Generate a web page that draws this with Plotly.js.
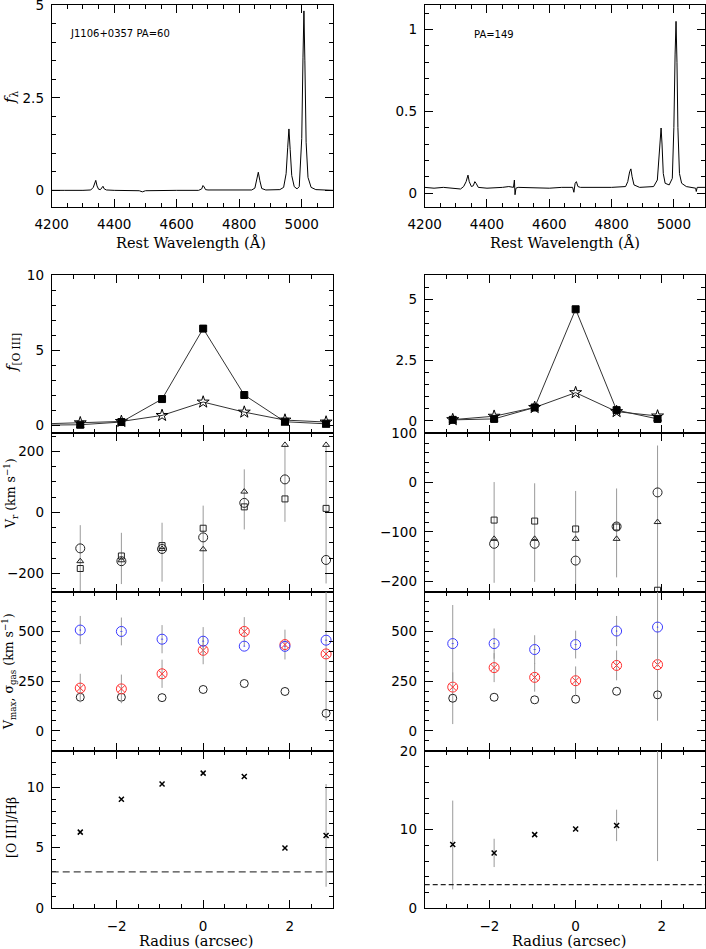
<!DOCTYPE html>
<html><head><meta charset="utf-8">
<script src="https://cdn.plot.ly/plotly-3.0.1.min.js"></script>
<style>html,body{margin:0;padding:0;background:#fff}#p{width:706px;height:949px}</style>
</head><body><div id="p"></div>
<script>
// ---------- DATA ----------
// Spectrum, PA=60 (rest wavelength, flux)
const specLWave = [4200,4230,4240,4300,4325,4333,4338,4341,4345,4350,4356,4361,4364,4368,4375,4400,4480,4490,4500,4600,4670,4680,4684,4688,4692,4700,4720,4800,4840,4850,4856,4861,4866,4872,4885,4930,4942,4950,4955,4959,4963,4968,4976,4985,4992,5000,5004,5007,5010,5014,5020,5030,5045,5100];
const specLFlux = [0.0,0.01,0.0,0.0,0.01,0.08,0.22,0.27,0.12,0.03,0.02,0.10,0.11,0.04,0.01,0.0,-0.01,-0.04,-0.01,0.0,0.0,0.04,0.13,0.09,0.02,0.01,0.01,0.0,0.01,0.06,0.28,0.49,0.26,0.05,0.01,0.02,0.08,0.45,1.15,1.66,1.1,0.4,0.1,0.04,0.1,1.4,3.6,4.85,3.5,1.3,0.35,0.08,0.02,0.0];
// Spectrum, PA=149
const specRWave = [4200,4230,4260,4300,4315,4325,4333,4339,4343,4350,4356,4361,4365,4372,4400,4450,4470,4485,4488,4490,4493,4500,4600,4640,4675,4679,4683,4687,4692,4700,4800,4845,4852,4858,4862,4866,4872,4890,4935,4947,4953,4957,4959,4962,4966,4972,4985,4995,5000,5004,5007,5010,5013,5018,5025,5040,5070,5072,5075,5100];
const specRFlux = [0.035,0.03,0.035,0.03,0.025,0.04,0.07,0.11,0.07,0.04,0.045,0.07,0.06,0.035,0.03,0.035,0.04,0.035,0.08,-0.01,0.03,0.035,0.03,0.035,0.035,0.005,0.06,0.07,0.04,0.035,0.035,0.04,0.07,0.13,0.148,0.1,0.05,0.035,0.04,0.08,0.22,0.36,0.398,0.3,0.12,0.06,0.05,0.09,0.4,0.85,1.05,0.8,0.4,0.12,0.06,0.04,0.03,0.01,0.035,0.035];

// Radius positions (arcsec)
const radL = [-2.84,-1.89,-0.95,0,0.95,1.89,2.84];
const radR = [-2.85,-1.89,-0.95,0,0.95,1.9];

// [O III] flux profiles (first point lies just outside the plotted range)
const fluxRadL = [-3.79,-2.84,-1.89,-0.95,0,0.95,1.89,2.84];
const fluxSqL   = [0.02,0.05,0.23,1.76,6.45,2.03,0.25,0.11];
const fluxStarL = [0.10,0.18,0.27,0.67,1.56,0.89,0.36,0.23];
const fluxSqR   = [0.04,0.08,0.55,4.59,0.44,0.08];
const fluxStarR = [0.05,0.19,0.55,1.16,0.38,0.20];

// Radial velocities (km/s)
const vrCircL = [-118,-160,-120,-82,31,108,-156];
const vrTriL  = [-160,-157,-120,-121,68,221,221];
const vrSqL   = [-184,-143,-109,-52,18,44,13];
const vrBarTopL = [-42,-67,-34,22,141,221,221];
const vrBarBotL = [-290,-235,-227,-231,-56,-31,-233];
const vrRadR  = [-1.89,-0.95,0,0.95,1.9];
const vrCircR = [-124,-124,-158,-89,-20];
const vrTriR  = [-114,-114,-114,-114,-80];
const vrSqR   = [-76,-78,-94,-90,-218];
const vrBarTopR = [1,-1.5,-17,-12,75];
const vrBarBotR = [-203,-201,-240,-192,-240];

// V_max (blue), sigma_gas (red), other (black circles)
const vmaxL  = [507,500,461,451,426,425,456];
const vmaxErrL = [71,70,71,71,0,0,0];
const sigL   = [215,211,287,405,500,434,387];
const sigErrL = [72,72,71,70,72,75,0];
const blkL   = [169,169,167,208,238,198,88];
const blkErrUpL = [0,0,0,0,0,0,620];
const blkErrDnL = [0,0,0,0,0,0,37];
const vmaxR  = [439,439,409,434,502,522];
const vmaxErrR = [194,76,72,70,76,200];
const sigR   = [220,318,269,252,329,333];
const sigErrR = [0,73,72,72,75,0];
const blkR   = [164,169,156,159,199,181];
const blkErrR = [130,0,0,0,0,130];

// [O III]/Hbeta ratios
const ratL = [6.28,9.0,10.25,11.15,10.87,4.97,6.0];
const ratErrUpL = [0,0,0,0,0,0,4.25];
const ratErrDnL = [0,0,0,0,0,0,4.23];
const ratR = [8.1,7.04,9.37,10.08,10.54,24];
const ratErrUpR = [5.6,1.8,0,0,2,20];
const ratErrDnR = [5.7,1.8,0,0,2,18];
const agnLimit = 3;

// Text
const labelL = "J1106+0357 PA=60";
const labelR = "PA=149";

// ---------- LAYOUT HELPERS ----------
const W = 706, H = 949;
const colL = [51.7, 333], colR = [424.7, 705];
const rows = {spec:[5,207], flux:[275,433], vr:[433,591.7], sig:[591.7,750.7], rat:[750.7,908.3]};
const dx = c => [c[0]/W, c[1]/W];
const dy = r => [1 - r[1]/H, 1 - r[0]/H];
const TF = {family:'DejaVu Sans, sans-serif', size:13.5, color:'#000'};

function xax(dom, range, dtick, minor, labels, anchor){
  return {domain:dx(dom), range:range, anchor:anchor, showgrid:false, zeroline:false,
    showline:true, linecolor:'#000', linewidth:1, mirror:'ticks', ticks:'inside',
    ticklen:8, tickwidth:1, tickcolor:'#000', dtick:dtick, tick0:0,
    minor:{dtick:minor, ticklen:4, tickwidth:1, tickcolor:'#000', ticks:'inside', showgrid:false},
    showticklabels:labels, tickfont:TF, ticklabelstandoff:5, ticklabeloverflow:'allow', fixedrange:true};
}
function yax(dom, range, dtick, minor, anchor){
  return {domain:dy(dom), range:range, anchor:anchor, showgrid:false, zeroline:false,
    showline:true, linecolor:'#000', linewidth:1, mirror:'ticks', ticks:'inside',
    ticklen:8, tickwidth:1, tickcolor:'#000', dtick:dtick, tick0:0,
    minor:{dtick:minor, ticklen:4, tickwidth:1, tickcolor:'#000', ticks:'inside', showgrid:false},
    tickfont:TF, ticklabelstandoff:4, ticklabeloverflow:'allow', fixedrange:true};
}

const R = [-3.5, 3];
const layout = {
  width:W, height:H, margin:{l:0,r:0,t:0,b:0}, paper_bgcolor:'#fff', plot_bgcolor:'#fff',
  showlegend:false,
  xaxis:  xax(colL,[4200,5100],200,50,true,'y'),   yaxis:  yax(rows.spec,[-0.45,5.01],2.5,0.5,'x'),
  xaxis2: xax(colR,[4200,5100],200,50,true,'y2'),  yaxis2: yax(rows.spec,[-0.085,1.15],0.5,0.1,'x2'),
  xaxis3: xax(colL,R,2,0.5,false,'y3'),  yaxis3: yax(rows.flux,[-0.5,10.02],5,1,'x3'),
  xaxis4: xax(colR,R,2,0.5,false,'y4'),  yaxis4: yax(rows.flux,[-0.5,6],2.5,0.5,'x4'),
  xaxis5: xax(colL,R,2,0.5,false,'y5'),  yaxis5: yax(rows.vr,[-260,260],200,50,'x5'),
  xaxis6: xax(colR,R,2,0.5,false,'y6'),  yaxis6: yax(rows.vr,[-221,100.3],100,20,'x6'),
  xaxis7: xax(colL,R,2,0.5,false,'y7'),  yaxis7: yax(rows.sig,[-100,700],250,50,'x7'),
  xaxis8: xax(colR,R,2,0.5,false,'y8'),  yaxis8: yax(rows.sig,[-100,700],250,50,'x8'),
  xaxis9: xax(colL,R,2,0.5,true,'y9'),   yaxis9: yax(rows.rat,[-0.01,13],5,1,'x9'),
  xaxis10:xax(colR,R,2,0.5,true,'y10'),  yaxis10:yax(rows.rat,[-0.01,20.05],10,2,'x10'),
  shapes:[
    {type:'line', xref:'x9 domain', yref:'y9', x0:0, x1:1, y0:agnLimit, y1:agnLimit, line:{color:'#444', width:1.2, dash:'7px,4px'}},
    {type:'line', xref:'x10 domain', yref:'y10', x0:0, x1:1, y0:agnLimit, y1:agnLimit, line:{color:'#222', width:1.2, dash:'5px,3px'}}
  ],
  annotations:[]
};

const ann = (text, px, py, opts) => Object.assign({text:text, xref:'paper', yref:'paper', x:px/W, y:1-py/H,
  showarrow:false, xanchor:'center', yanchor:'middle'}, opts||{});
const SF = {family:'DejaVu Serif, serif', size:14.5, color:'#000'};
const SF2 = {family:'DejaVu Serif, serif', size:12.5, color:'#000'};
layout.annotations.push(
  ann(labelL, 68, 33, {xanchor:'left', font:{family:'DejaVu Sans, sans-serif', size:10, color:'#000'}}),
  ann(labelR, 472, 34, {xanchor:'left', font:{family:'DejaVu Sans, sans-serif', size:10, color:'#000'}}),
  ann('Rest Wavelength (Å)', 191, 242, {font:SF}),
  ann('Rest Wavelength (Å)', 565, 242, {font:SF}),
  ann('Radius (arcsec)', 196, 941, {font:SF}),
  ann('Radius (arcsec)', 569, 941, {font:SF}),
  ann('<i>f</i><sub>λ</sub>', 11, 97, {textangle:-90, font:{family:'DejaVu Serif, serif', size:15, color:'#000'}}),
  ann('<i>f</i><sub>[O III]</sub>', 12, 353, {textangle:-90, font:{family:'DejaVu Serif, serif', size:15, color:'#000'}}),
  ann('V<sub>r</sub> (km s<sup>−1</sup>)', 11, 494, {textangle:-90, font:SF2}),
  ann('V<sub>max</sub>, σ<sub>gas</sub> (km s<sup>−1</sup>)', 9, 672, {textangle:-90, font:SF2}),
  ann('[O III]/Hβ', 11, 828, {textangle:-90, font:SF2})
);

// ---------- TRACES ----------
const data = [];
const line = (x,y,xa,ya) => ({type:'scatter', mode:'lines', x:x, y:y, xaxis:xa, yaxis:ya, line:{color:'#000', width:1}, hoverinfo:'skip'});
data.push(line(specLWave, specLFlux, 'x', 'y'));
data.push(line(specRWave, specRFlux, 'x2', 'y2'));

const mk = (x,y,xa,ya,sym,size,color,opts) => Object.assign({type:'scatter', mode:'markers', x:x, y:y, xaxis:xa, yaxis:ya,
  marker:{symbol:sym, size:size, color:color, line:{color:color, width:1}}, hoverinfo:'skip'}, opts||{});
const EB = {color:'#9a9a9a', thickness:1, width:0};

// Flux panels
const fl = (x,y,xa,ya,sym,size) => ({type:'scatter', mode:'lines+markers', x:x, y:y, xaxis:xa, yaxis:ya,
  line:{color:'#333', width:1}, marker:{symbol:sym, size:size, color:'#000', line:{color:'#000', width:1}}, hoverinfo:'skip'});
data.push(fl(fluxRadL, fluxStarL, 'x3','y3','star-open',9));
data.push(fl(fluxRadL, fluxSqL, 'x3','y3','square',7));
data.push(fl(radR, fluxStarR, 'x4','y4','star-open',9));
data.push(fl(radR, fluxSqR, 'x4','y4','square',7));

// Vr panels: error bars drawn from bar ends
const barC = (t,b) => t.map((v,i)=>(v+b[i])/2);
const barE = (t,b) => t.map((v,i)=>(v-b[i])/2);
data.push(mk(radL, barC(vrBarTopL,vrBarBotL), 'x5','y5','circle',1,'rgba(0,0,0,0)',
  {error_y:Object.assign({type:'data', array:barE(vrBarTopL,vrBarBotL), visible:true}, EB)}));
data.push(mk(vrRadR, barC(vrBarTopR,vrBarBotR), 'x6','y6','circle',1,'rgba(0,0,0,0)',
  {error_y:Object.assign({type:'data', array:barE(vrBarTopR,vrBarBotR), visible:true}, EB)}));
data.push(mk(radL, vrSqL, 'x5','y5','square-open',6,'#222'));
data.push(mk(radL, vrTriL, 'x5','y5','triangle-up-open',6,'#222'));
data.push(mk(radL, vrCircL, 'x5','y5','circle-open',9,'#222'));
data.push(mk(vrRadR, vrSqR, 'x6','y6','square-open',6,'#222'));
data.push(mk(vrRadR, vrTriR, 'x6','y6','triangle-up-open',6,'#222'));
data.push(mk(vrRadR, vrCircR, 'x6','y6','circle-open',9,'#222'));

// Sigma panels
const BLUE = '#3a3aff', RED = '#ff3030';
data.push(mk(radL, blkL, 'x7','y7','circle-open',8,'#222',
  {error_y:Object.assign({type:'data', array:blkErrUpL, arrayminus:blkErrDnL, symmetric:false, visible:true}, EB)}));
data.push(mk(radL, sigL, 'x7','y7','circle-x-open',10,RED,
  {error_y:Object.assign({type:'data', array:sigErrL, visible:true}, EB)}));
data.push(mk(radL, vmaxL, 'x7','y7','circle-open-dot',10,BLUE,
  {error_y:Object.assign({type:'data', array:vmaxErrL, visible:true}, EB)}));
data.push(mk(radR, blkR, 'x8','y8','circle-open',8,'#222',
  {error_y:Object.assign({type:'data', array:blkErrR, visible:true}, EB)}));
data.push(mk(radR, sigR, 'x8','y8','circle-x-open',10,RED,
  {error_y:Object.assign({type:'data', array:sigErrR, visible:true}, EB)}));
data.push(mk(radR, vmaxR, 'x8','y8','circle-open-dot',10,BLUE,
  {error_y:Object.assign({type:'data', array:vmaxErrR, visible:true}, EB)}));

// Ratio panels
data.push(mk(radL, ratL, 'x9','y9','x-thin-open',5,'#000',
  {error_y:Object.assign({type:'data', array:ratErrUpL, arrayminus:ratErrDnL, symmetric:false, visible:true}, EB)}));
data.push(mk(radR, ratR, 'x10','y10','x-thin-open',5,'#000',
  {error_y:Object.assign({type:'data', array:ratErrUpR, arrayminus:ratErrDnR, symmetric:false, visible:true}, EB)}));
data.forEach(t => { if (t.marker && t.marker.symbol === 'x-thin-open') t.marker.line.width = 1.5; });

Plotly.newPlot('p', data, layout, {staticPlot:true, displayModeBar:false});
</script></body></html>
